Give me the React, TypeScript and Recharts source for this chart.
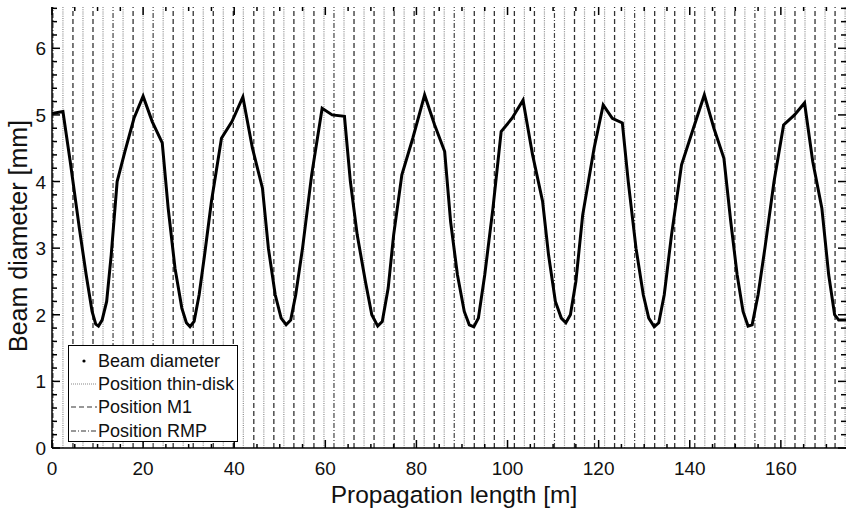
import React from "react";
import { LineChart, Line, XAxis, YAxis, ReferenceLine } from "recharts";

// beam diameter along the propagation path
const propagationLength = [
  0, 2.4, 4, 6, 7.5, 8.8, 9.6, 10.2, 11, 12, 13, 14.3, 16, 18, 20,
  22, 24.2, 25.5, 27, 28.5, 29.5, 30.3, 31.2, 32.3, 33.5, 35, 37.2, 39.5, 41.9,
  44, 46.2, 47.5, 49, 50.3, 51.4, 52.4, 53.5, 55, 57, 59.3, 61.5, 64.2,
  65.5, 67, 68.8, 70.2, 71.5, 72.5, 73.8, 75, 76.8, 79.2, 81.8,
  84, 86.2, 87.5, 89, 90.5, 91.6, 92.6, 93.6, 95, 96.8, 98.6, 101, 103.4,
  105.5, 107.7, 109, 110.5, 111.8, 112.8, 113.8, 115, 116.5, 119, 121,
  123, 125.2, 126.5, 128.2, 129.8, 131, 132.2, 133.2, 134.4, 136, 138.2, 140.8, 143.2,
  145.3, 147.5, 149, 150.4, 151.7, 152.8, 153.7, 155, 156.5, 158.5, 160.6, 163, 165.2,
  167, 169, 170.5, 171.8, 172.7, 175,
];
const beamDiameter = [
  5.02, 5.05, 4.3, 3.3, 2.6, 2.05, 1.86, 1.83, 1.92, 2.2, 2.9, 4.0, 4.45, 4.95, 5.28,
  4.9, 4.58, 3.6, 2.7, 2.1, 1.88, 1.82, 1.9, 2.3, 2.9, 3.7, 4.65, 4.9, 5.27,
  4.5, 3.9, 3.0, 2.3, 1.95, 1.85, 1.92, 2.3, 3.0, 4.1, 5.1, 5.0, 4.98,
  4.0, 3.2, 2.5, 2.0, 1.83, 1.9, 2.4, 3.2, 4.1, 4.65, 5.3,
  4.85, 4.45, 3.4, 2.6, 2.05, 1.85, 1.82, 1.95, 2.6, 3.6, 4.75, 4.95, 5.22,
  4.4, 3.7, 2.9, 2.2, 1.95, 1.88, 2.0, 2.5, 3.5, 4.5, 5.15,
  4.95, 4.88, 4.0, 3.0, 2.3, 1.95, 1.82, 1.88, 2.3, 3.2, 4.25, 4.8, 5.3,
  4.8, 4.35, 3.4, 2.6, 2.05, 1.83, 1.85, 2.3, 3.0, 4.0, 4.85, 5.0, 5.18,
  4.3, 3.6, 2.6, 2.0, 1.92, 1.92,
];

// element positions [m]
const thinDiskPositions = [
  2.4, 6.8, 11.2, 15.6, 20.0, 24.4, 28.8, 33.2, 37.6, 42.0, 46.5, 50.9, 55.3, 59.7,
  64.1, 68.5, 72.9, 77.3, 81.7, 86.1, 90.5, 94.9, 99.3, 103.7, 108.1, 112.5, 116.9,
  121.3, 125.7, 130.1, 134.5, 138.9, 143.3, 147.7, 152.1, 156.5, 160.9, 165.3, 169.7, 174.1,
];
const m1Positions = [
  4.6, 9.0, 17.8, 26.6, 31.0, 35.4, 39.8, 44.3, 48.7, 53.1, 57.5, 66.3, 70.7, 75.1,
  79.5, 83.9, 92.7, 97.1, 101.5, 105.9, 114.7, 119.1, 123.5, 132.3, 136.7, 141.1,
  145.5, 149.9, 158.7, 163.1, 167.5, 171.9,
];
const rmpPositions = [0.2, 13.4, 22.2, 61.9, 88.3, 110.3, 127.9, 154.3];

const xTickLabels = [0, 20, 40, 60, 80, 100, 120, 140, 160];
const yTickLabels = [0, 1, 2, 3, 4, 5, 6];

const data = propagationLength.map((x, i) => ({ x, d: beamDiameter[i] }));

const W = 847;
const H = 515;
const PLOT_LEFT = 52;
const PLOT_RIGHT = 846;
const PLOT_TOP = 7;
const PLOT_BOTTOM = 448;
const FONT = "'Liberation Sans', Arial, sans-serif";

const xTicks = Array.from({ length: 35 }, (_, i) => i * 5);
const yTicks = Array.from({ length: 34 }, (_, i) => Math.round(i * 2) / 10);

const XTick = (props: any) => {
  const { x, payload } = props;
  const major = xTickLabels.includes(payload.value);
  const len = major ? 8 : 4;
  return (
    <g>
      <line x1={x} x2={x} y1={PLOT_BOTTOM} y2={PLOT_BOTTOM - len} stroke="#000" strokeWidth={1.5} />
      <line x1={x} x2={x} y1={PLOT_TOP} y2={PLOT_TOP + len} stroke="#000" strokeWidth={1.5} />
      {major && (
        <text x={x} y={PLOT_BOTTOM + 27} textAnchor="middle" fontSize={19} fontFamily={FONT} fill="#111">
          {payload.value}
        </text>
      )}
    </g>
  );
};

const YTick = (props: any) => {
  const { y, payload } = props;
  const major = yTickLabels.includes(payload.value);
  const len = major ? 8 : 5;
  return (
    <g>
      <line x1={PLOT_LEFT} x2={PLOT_LEFT + len} y1={y} y2={y} stroke="#000" strokeWidth={1.5} />
      <line x1={PLOT_RIGHT} x2={PLOT_RIGHT - len} y1={y} y2={y} stroke="#000" strokeWidth={1.5} />
      {major && (
        <text x={46} y={y + 7} textAnchor="end" fontSize={19} fontFamily={FONT} fill="#111">
          {payload.value}
        </text>
      )}
    </g>
  );
};

const legendItems = [
  { label: "Beam diameter", kind: "dot" },
  { label: "Position thin-disk", kind: "dotted" },
  { label: "Position M1", kind: "dashed" },
  { label: "Position RMP", kind: "dashdot" },
];

const sample = (kind: string) => {
  if (kind === "dot") return <circle cx={13} cy={5} r={1.6} fill="#000" />;
  const dash = kind === "dotted" ? "1 1" : kind === "dashed" ? "5 3" : "5 2 1 2";
  const color = kind === "dotted" ? "#888" : "#333";
  return <line x1={0} x2={26} y1={5} y2={5} stroke={color} strokeWidth={1.2} strokeDasharray={dash} />;
};

export default function App() {
  return (
    <div style={{ position: "absolute", left: 0, top: 0, width: W, height: H, overflow: "hidden", background: "#fff" }}>
      <LineChart width={W} height={H} data={data} margin={{ top: PLOT_TOP, right: W - PLOT_RIGHT, bottom: 0, left: 0 }}>
        <XAxis
          dataKey="x"
          type="number"
          domain={[0, 174.3]}
          ticks={xTicks}
          interval={0}
          allowDataOverflow
          height={H - PLOT_BOTTOM}
          tickLine={false}
          axisLine={{ stroke: "#000", strokeWidth: 1.5 }}
          tick={<XTick />}
        />
        <XAxis xAxisId="top" orientation="top" type="number" domain={[0, 174.3]} height={0} tick={false} tickLine={false} axisLine={{ stroke: "#000", strokeWidth: 1.5 }} />
        <YAxis
          type="number"
          domain={[0, 6.62]}
          ticks={yTicks}
          interval={0}
          allowDataOverflow
          width={PLOT_LEFT}
          tickLine={false}
          axisLine={{ stroke: "#000", strokeWidth: 1.5 }}
          tick={<YTick />}
        />
        <YAxis yAxisId="right" orientation="right" type="number" domain={[0, 6.62]} width={0} tick={false} tickLine={false} axisLine={{ stroke: "#000", strokeWidth: 1.5 }} />
        {thinDiskPositions.map((p) => (
          <ReferenceLine key={"t" + p} x={p} stroke="#8a8a8a" strokeWidth={1.2} strokeDasharray="1 1.2" />
        ))}
        {m1Positions.map((p) => (
          <ReferenceLine key={"m" + p} x={p} stroke="#333" strokeWidth={1.3} strokeDasharray="5 3" />
        ))}
        {rmpPositions.map((p) => (
          <ReferenceLine key={"r" + p} x={p} stroke="#444" strokeWidth={1.2} strokeDasharray="5 2 1 2" />
        ))}
        <Line type="linear" dataKey="d" stroke="#000" strokeWidth={3} dot={false} isAnimationActive={false} />
      </LineChart>

      <svg style={{ position: "absolute", left: 0, top: 0, pointerEvents: "none" }} width={W} height={H}>
        <text x={454} y={503} textAnchor="middle" fontSize={24.5} fontFamily={FONT} fill="#111">
          Propagation length [m]
        </text>
        <text x={27} y={236} textAnchor="middle" fontSize={25} fontFamily={FONT} fill="#111" transform="rotate(-90 27 236)">
          Beam diameter [mm]
        </text>
      </svg>

      <div
        style={{
          position: "absolute",
          left: 68,
          top: 345,
          width: 170,
          height: 97,
          boxSizing: "border-box",
          border: "1.5px solid #000",
          background: "#fff",
          fontFamily: FONT,
          fontSize: 18,
          color: "#111",
          paddingTop: 3,
        }}
      >
        {legendItems.map((it) => (
          <div key={it.label} style={{ display: "flex", alignItems: "center", height: 23.3 }}>
            <svg width={27} height={10} style={{ marginLeft: 2, flex: "none" }}>
              {sample(it.kind)}
            </svg>
            <span style={{ whiteSpace: "nowrap", lineHeight: "20px" }}>{it.label}</span>
          </div>
        ))}
      </div>
    </div>
  );
}
